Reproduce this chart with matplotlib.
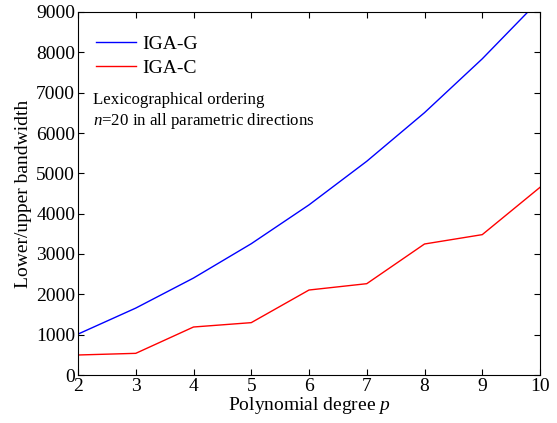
import matplotlib.pyplot as plt

plt.rcParams['font.family'] = ['Liberation Serif', 'DejaVu Serif']
plt.rcParams['mathtext.fontset'] = 'custom'
plt.rcParams['mathtext.it'] = 'Liberation Serif:italic'
plt.rcParams['mathtext.rm'] = 'Liberation Serif'

degree = [2, 3, 4, 5, 6, 7, 8, 9, 10]
iga_g = [1014, 1659, 2404, 3255, 4218, 5299, 6504, 7839, 9310]
iga_c = [496, 537, 1190, 1298, 2107, 2264, 3248, 3480, 4653]

fig = plt.figure(figsize=(5.57, 4.23), dpi=100)
ax = fig.add_axes([78 / 557, 48 / 423, 462 / 557, 363 / 423])

ax.plot(degree, iga_g, color='blue', lw=1.0, label='IGA-G')
ax.plot(degree, iga_c, color='red', lw=1.0, label='IGA-C')

ax.set_xlim(2, 10)
ax.set_ylim(0, 9000)
ax.set_xticks(range(2, 11))
ax.set_yticks(range(0, 9001, 1000))
ax.tick_params(direction='in', top=True, right=True, labelsize=14, length=4, pad=2)
ax.set_xlabel('Polynomial degree $p$', fontsize=14, labelpad=0)
ax.set_ylabel('Lower/upper bandwidth', fontsize=14, labelpad=3)

ax.legend(loc='upper left', frameon=False, fontsize=14, handlelength=2.1,
          handletextpad=0.3, borderaxespad=0.5, labelspacing=0.35,
          bbox_to_anchor=(0.0, 0.985))
ax.text(0.032, 0.78, 'Lexicographical ordering\n$n$=20 in all parametric directions',
        transform=ax.transAxes, fontsize=12.2, va='top', linespacing=1.2)

fig.savefig('out.png', dpi=100)
